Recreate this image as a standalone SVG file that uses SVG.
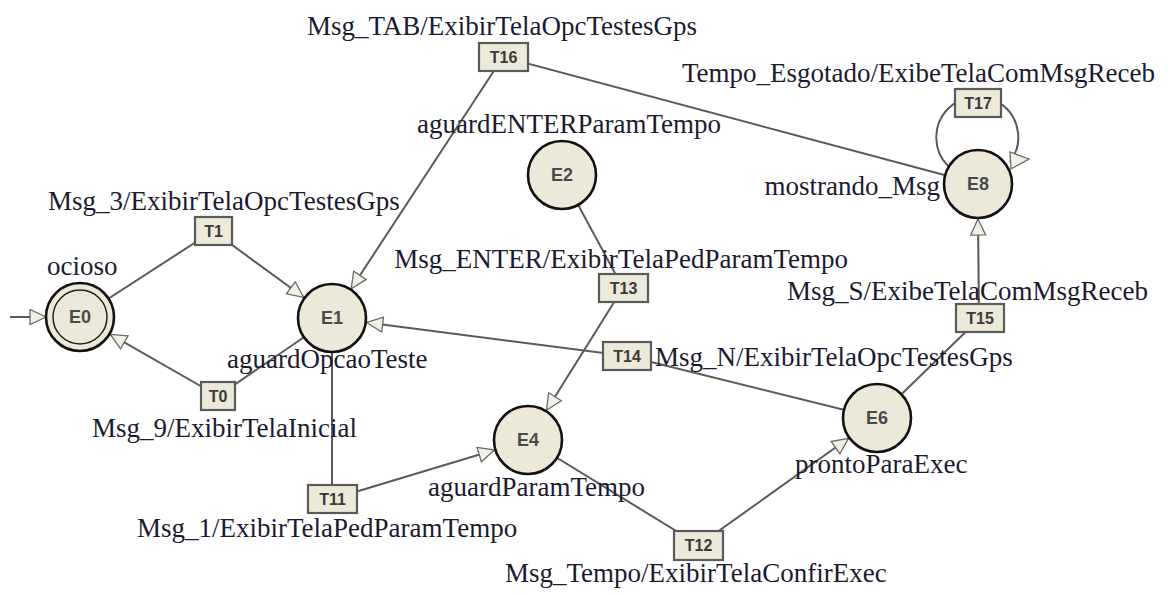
<svg xmlns="http://www.w3.org/2000/svg" width="1169" height="597" viewBox="0 0 1169 597">
<style>
.edge{stroke:#5a5a5a;stroke-width:2;fill:none}
.st{fill:#ECE9D8;stroke:#111;stroke-width:2.6}
.st2{fill:none;stroke:#222;stroke-width:1.5}
.sid{font-family:"Liberation Sans",Arial,sans-serif;font-weight:bold;font-size:18px;fill:#4a4a4a;text-anchor:middle}
.tb{fill:#ECE9D8;stroke:#5a5a5a;stroke-width:2.2}
.tid{font-family:"Liberation Sans",Arial,sans-serif;font-weight:bold;font-size:16px;fill:#3a3a3a;text-anchor:middle}
.lbl{font-family:"Liberation Serif","Times New Roman",serif;font-size:27px;fill:#1c1a30}
</style>
<defs>
<marker id="arr" markerUnits="userSpaceOnUse" markerWidth="20" markerHeight="20" refX="17" refY="8.5" orient="auto">
<path d="M1,1 L17,8.5 L1,16 Z" fill="#F2F0E6" stroke="#6a6a6a" stroke-width="1.3"/>
</marker>
</defs>
<g id="connectors">
<line class="edge" x1="10" y1="317" x2="46" y2="317" marker-end="url(#arr)"/>
<line class="edge" x1="80" y1="317" x2="213" y2="231"/>
<line class="edge" x1="213" y1="231" x2="303.7" y2="297.3" marker-end="url(#arr)"/>
<line class="edge" x1="332" y1="318" x2="218" y2="396"/>
<line class="edge" x1="218" y1="396" x2="110.4" y2="334.4" marker-end="url(#arr)"/>
<line class="edge" x1="332" y1="318" x2="332" y2="499"/>
<line class="edge" x1="332" y1="499" x2="494.5" y2="450" marker-end="url(#arr)"/>
<line class="edge" x1="562" y1="175" x2="623" y2="288"/>
<line class="edge" x1="623" y1="288" x2="546.5" y2="410.3" marker-end="url(#arr)"/>
<line class="edge" x1="528" y1="440" x2="699" y2="545"/>
<line class="edge" x1="699" y1="545" x2="848.5" y2="438.3" marker-end="url(#arr)"/>
<line class="edge" x1="877" y1="418" x2="627" y2="356"/>
<line class="edge" x1="627" y1="356" x2="366.7" y2="322.5" marker-end="url(#arr)"/>
<line class="edge" x1="877" y1="418" x2="980" y2="318"/>
<line class="edge" x1="979" y1="318" x2="978" y2="219" marker-end="url(#arr)"/>
<line class="edge" x1="978" y1="184" x2="503" y2="57"/>
<line class="edge" x1="503" y1="57" x2="351.2" y2="288.7" marker-end="url(#arr)"/>
<path class="edge" d="M948,166 A41,41 0 1 1 1010,162" stroke-width="1.6"/>
<polygon points="1010,152 1011,169 1029,159" fill="#F2F0E6" stroke="#6a6a6a" stroke-width="1.3"/>
</g>
<g id="E0">
<circle class="st" cx="80" cy="317" r="34"/>
<circle class="st2" cx="80" cy="317" r="27"/>
<text class="sid" x="80" y="323">E0</text>
<text class="lbl" x="47" y="275">ocioso</text>
</g>
<g id="E1">
<circle class="st" cx="332" cy="318" r="34"/>
<text class="sid" x="332" y="324">E1</text>
<text class="lbl" x="227" y="368">aguardOpcaoTeste</text>
</g>
<g id="E2">
<circle class="st" cx="562" cy="175" r="34"/>
<text class="sid" x="562" y="181">E2</text>
<text class="lbl" x="417" y="133">aguardENTERParamTempo</text>
</g>
<g id="E4">
<circle class="st" cx="528" cy="440" r="34"/>
<text class="sid" x="528" y="446">E4</text>
<text class="lbl" x="428" y="496">aguardParamTempo</text>
</g>
<g id="E6">
<circle class="st" cx="877" cy="418" r="34"/>
<text class="sid" x="877" y="424">E6</text>
<text class="lbl" x="795" y="473">prontoParaExec</text>
</g>
<g id="E8">
<circle class="st" cx="978" cy="184" r="34"/>
<text class="sid" x="978" y="190">E8</text>
<text class="lbl" x="940" y="195" text-anchor="end">mostrando_Msg</text>
</g>
<g id="T0">
<rect class="tb" x="201" y="382" width="34" height="28"/>
<text class="tid" x="218" y="402">T0</text>
<text class="lbl" x="92" y="437">Msg_9/ExibirTelaInicial</text>
</g>
<g id="T1">
<rect class="tb" x="195" y="217" width="37" height="28"/>
<text class="tid" x="213.5" y="237">T1</text>
<text class="lbl" x="48" y="210">Msg_3/ExibirTelaOpcTestesGps</text>
</g>
<g id="T11">
<rect class="tb" x="308" y="485" width="49" height="28"/>
<text class="tid" x="332.5" y="505">T11</text>
<text class="lbl" x="137" y="537">Msg_1/ExibirTelaPedParamTempo</text>
</g>
<g id="T12">
<rect class="tb" x="674" y="531" width="49" height="29"/>
<text class="tid" x="698.5" y="551">T12</text>
<text class="lbl" x="505" y="582">Msg_Tempo/ExibirTelaConfirExec</text>
</g>
<g id="T13">
<rect class="tb" x="599" y="274" width="49" height="28"/>
<text class="tid" x="623.5" y="294">T13</text>
<text class="lbl" x="848" y="268" text-anchor="end">Msg_ENTER/ExibirTelaPedParamTempo</text>
</g>
<g id="T14">
<rect class="tb" x="603" y="342" width="48" height="28"/>
<text class="tid" x="627" y="362">T14</text>
<text class="lbl" x="655" y="366">Msg_N/ExibirTelaOpcTestesGps</text>
</g>
<g id="T15">
<rect class="tb" x="956" y="304" width="48" height="28"/>
<text class="tid" x="980" y="324">T15</text>
<text class="lbl" x="787" y="300">Msg_S/ExibeTelaComMsgReceb</text>
</g>
<g id="T16">
<rect class="tb" x="479" y="43" width="49" height="28"/>
<text class="tid" x="503.5" y="63">T16</text>
<text class="lbl" x="307" y="35">Msg_TAB/ExibirTelaOpcTestesGps</text>
</g>
<g id="T17">
<rect class="tb" x="955" y="89" width="46" height="28"/>
<text class="tid" x="978" y="109">T17</text>
<text class="lbl" x="1155" y="82" text-anchor="end">Tempo_Esgotado/ExibeTelaComMsgReceb</text>
</g>
</svg>
